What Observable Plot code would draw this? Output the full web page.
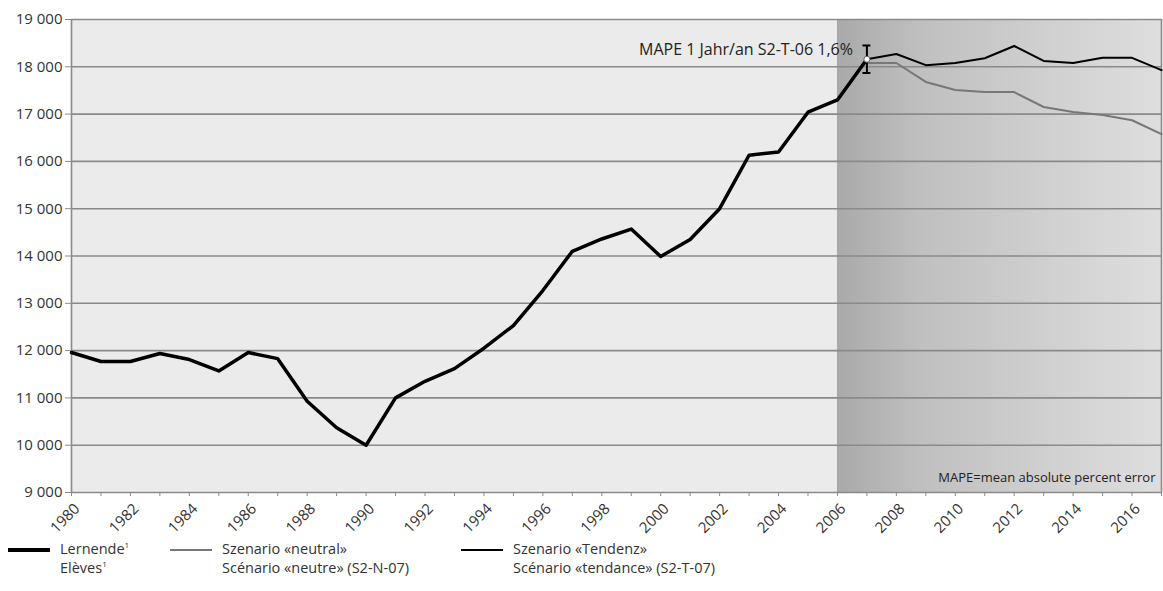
<!DOCTYPE html>
<html>
<head>
<meta charset="utf-8">
<script src="https://cdn.jsdelivr.net/npm/d3@7"></script>
<script src="https://cdn.jsdelivr.net/npm/@observablehq/plot@0.6"></script>
<style>
  html, body { margin: 0; padding: 0; background: #fff; }
  body { width: 1163px; height: 591px; overflow: hidden; font-family: "Open Sans", "Noto Sans", sans-serif; }
  #chart svg { display: block; overflow: visible; }
  .legend { position: relative; margin-top: -10px; height: 56px; font-size: 14.5px; color: #333; line-height: 19px; }
  .item { position: absolute; top: 4px; }
  .sw { position: absolute; top: 9px; width: 42px; }
  .lab { position: absolute; left: 52px; white-space: nowrap; }
  sup { font-size: 8px; position: relative; top: -6px; vertical-align: baseline; line-height: 0; }
</style>
</head>
<body>
<div id="chart"></div>
<div class="legend">
  <div class="item" style="left:8px"><div class="sw" style="border-top:4px solid #000"></div><div class="lab">Lernende<sup>1</sup><br>Elèves<sup>1</sup></div></div>
  <div class="item" style="left:170px"><div class="sw" style="border-top:2px solid #777;top:10px"></div><div class="lab">Szenario «neutral»<br>Scénario «neutre» (S2-N-07)</div></div>
  <div class="item" style="left:461px"><div class="sw" style="border-top:2px solid #000;top:10px"></div><div class="lab">Szenario «Tendenz»<br>Scénario «tendance» (S2-T-07)</div></div>
</div>
<script>
// Observed students (Lernende / Elèves), 1980-2007
const histYears = [1980,1981,1982,1983,1984,1985,1986,1987,1988,1989,1990,1991,1992,1993,1994,1995,1996,1997,1998,1999,2000,2001,2002,2003,2004,2005,2006,2007];
const histValues = [11960,11770,11770,11940,11810,11570,11960,11830,10930,10370,10000,11000,11350,11620,12050,12530,13270,14100,14360,14570,13990,14350,15000,16130,16200,17040,17300,18160];
// Scenarios 2007-2017
const scenYears = [2007,2008,2009,2010,2011,2012,2013,2014,2015,2016,2017];
const neutralValues = [18080,18080,17680,17510,17465,17465,17150,17045,16980,16870,16575];
const tendenzValues = [18160,18270,18035,18080,18180,18440,18125,18080,18190,18190,17930];
// MAPE error bar
const mapeYear = 2007;
const mapeCenter = 18160;
const mapePct = 1.6;
const mapeLabel = "MAPE 1 Jahr/an S2-T-06 1,6%";
const noteLabel = "MAPE=mean absolute percent error";
// Forecast period shading
const forecastStart = 2006;
const forecastEnd = 2017;
const xDomain = [1980, 2017];
const yDomain = [9000, 19000];
const yTicks = [9000,10000,11000,12000,13000,14000,15000,16000,17000,18000,19000];
const xTicksAll = d3.range(1980, 2018);
const xTickLabels = d3.range(1980, 2017, 2);

const hist = histYears.map((x, i) => ({x, y: histValues[i]}));
const neutral = scenYears.map((x, i) => ({x, y: neutralValues[i]}));
const tendenz = scenYears.map((x, i) => ({x, y: tendenzValues[i]}));
const err = [{x: mapeYear, y: mapeCenter, lo: mapeCenter * (1 - mapePct / 100), hi: mapeCenter * (1 + mapePct / 100)}];

const fmt = d => d3.format(",")(d).replace(/,/g, "\u00a0");

const defs = () => {
  const g = d3.create("svg:defs");
  const lg = g.append("linearGradient").attr("id", "fcgrad").attr("x1", "0").attr("x2", "1").attr("y1", "0").attr("y2", "0");
  lg.append("stop").attr("offset", "0").attr("stop-color", "#a9a9a9");
  lg.append("stop").attr("offset", "0.25").attr("stop-color", "#bfbfbf");
  lg.append("stop").attr("offset", "0.7").attr("stop-color", "#d2d2d2");
  lg.append("stop").attr("offset", "1").attr("stop-color", "#dedede");
  return g.node();
};

// rotated x tick labels, positioned through Plot's x and y scales
const xLabels = (index, scales) => {
  const g = d3.create("svg:g")
    .attr("font-size", 15)
    .attr("fill", "#333")
    .attr("text-anchor", "end");
  const y0 = scales.y(yDomain[0]);
  for (const d of xTickLabels) {
    g.append("text")
      .attr("transform", `translate(${scales.x(d) + 2},${y0 + 10}) rotate(-45)`)
      .attr("dy", "0.72em")
      .text(String(d));
  }
  return g.node();
};

const chart = Plot.plot({
  width: 1163,
  height: 545,
  marginLeft: 71,
  marginRight: 2,
  marginTop: 19,
  marginBottom: 53,
  style: {fontFamily: "'Open Sans', 'Noto Sans', sans-serif", color: "#333", background: "#fff", overflow: "visible"},
  x: {domain: xDomain, type: "linear"},
  y: {domain: yDomain},
  marks: [
    defs,
    Plot.rect([{x1: xDomain[0], x2: xDomain[1], y1: yDomain[0], y2: yDomain[1]}], {x1: "x1", x2: "x2", y1: "y1", y2: "y2", fill: "#ebebeb"}),
    Plot.rect([{x1: forecastStart, x2: forecastEnd, y1: yDomain[0], y2: yDomain[1]}], {x1: "x1", x2: "x2", y1: "y1", y2: "y2", fill: "url(#fcgrad)"}),
    Plot.ruleY(yTicks, {stroke: "#8a8a8a", strokeWidth: 1.6}),
    Plot.ruleX([xDomain[0], xDomain[1]], {stroke: "#8a8a8a", strokeWidth: 1.6}),
    Plot.axisY({ticks: yTicks, tickFormat: fmt, tickSize: 6, tickPadding: 3, fontSize: 15, stroke: "#8a8a8a", fill: "#333"}),
    Plot.axisX({ticks: xTicksAll, tickFormat: () => "", tickSize: 4, stroke: "#8a8a8a"}),
    xLabels,
    Plot.line(neutral, {x: "x", y: "y", stroke: "#777", strokeWidth: 2}),
    Plot.line(tendenz, {x: "x", y: "y", stroke: "#000", strokeWidth: 2}),
    Plot.line(hist, {x: "x", y: "y", stroke: "#000", strokeWidth: 3.5}),
    Plot.ruleX(err, {x: "x", y1: "lo", y2: "hi", stroke: "#000", strokeWidth: 2}),
    Plot.ruleY(err, {y: "lo", x1: "x", x2: "x", insetLeft: -4, insetRight: -4, stroke: "#000", strokeWidth: 2}),
    Plot.ruleY(err, {y: "hi", x1: "x", x2: "x", insetLeft: -4, insetRight: -4, stroke: "#000", strokeWidth: 2}),
    Plot.dot(err, {x: "x", y: "y", r: 3, fill: "#fff", stroke: "#666", strokeWidth: 1}),
    Plot.text(err, {x: "x", y: "y", text: () => mapeLabel, textAnchor: "end", dx: -14, dy: -9, fontSize: 16, fill: "#222"}),
    Plot.text([noteLabel], {x: xDomain[1], y: yDomain[0], text: d => d, textAnchor: "end", dx: -6, dy: -15, fontSize: 13, fill: "#222"})
  ]
});
document.getElementById("chart").appendChild(chart);
</script>
</body>
</html>
